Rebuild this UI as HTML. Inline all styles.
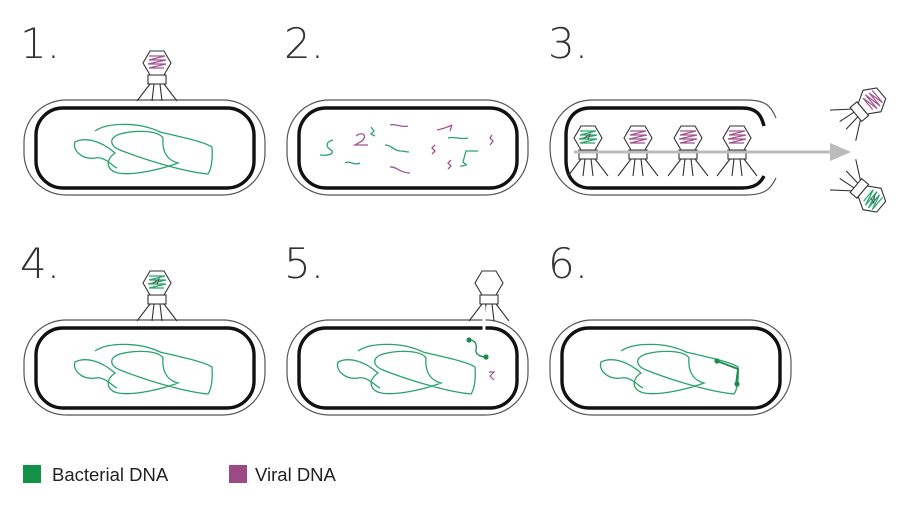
<!DOCTYPE html>
<html><head><meta charset="utf-8"><style>
html,body{margin:0;padding:0;background:#fff;}
svg{display:block;}
</style></head><body>
<svg width="909" height="512" viewBox="0 0 909 512" xmlns="http://www.w3.org/2000/svg">
<defs>
<g id="cell">
<rect x="24" y="100" width="241" height="95" rx="42" fill="#fff" stroke="#555" stroke-width="1.2"/>
<rect x="36" y="108" width="218" height="80" rx="27" fill="#fff" stroke="#111" stroke-width="3.4"/>
</g>
<path id="dna" fill="none" stroke="#2aa36b" stroke-width="1.3" d="M95 131 C108 122,140 122,160 132 C185 138,205 142,212 147 C213 160,211 170,208 174 C185 172,145 160,120 150 C110 146,108 138,120 134 C135 130,158 130,163 138 C162 150,166 160,178 163 C165 168,135 176,118 173 C106 170,105 160,115 153 C100 140,85 137,75 142 C72 150,82 160,95 158 C105 156,112 166,117 168"/>
<g id="legs" fill="none" stroke="#333" stroke-width="1.1">
<rect x="-9" y="12" width="18" height="9" fill="#fff"/>
<path d="M-7 21 L-20 38 M-3 21 L-5 38 M3 21 L5 38 M7 21 L20 38"/>
</g>
<polygon id="hex" points="-7,-12 7,-12 14,0 7,12 -7,12 -14,0" fill="#fff" stroke="#333" stroke-width="1.1"/>
<g id="pfill" fill="none" stroke="#a0558e" stroke-width="1.2"><path d="M-8 -7 H8 L-8 -3 H9 L-9 1 H9 L-8 5 H7"/></g>
<g id="gfill" fill="none" stroke="#2aa36b" stroke-width="1.2"><path d="M-8 -7 H8 L-8 -3 H9 L-9 1 H9 L-8 5 H7"/></g>
<g id="phageP"><use href="#legs"/><use href="#hex"/><use href="#pfill"/></g>
<g id="phageG"><use href="#legs"/><use href="#hex"/><use href="#gfill"/><path d="M-4 0 l6 -4 l-2 6" stroke="#555" fill="none"/></g>
</defs>

<g font-family="'DejaVu Sans ExtraLight','DejaVu Sans','Liberation Sans',sans-serif" font-size="42" fill="#333" font-weight="200">
<text x="20" y="58">1.</text>
<text x="284" y="58">2.</text>
<text x="548" y="58">3.</text>
<text x="20" y="278">4.</text>
<text x="284" y="278">5.</text>
<text x="548" y="278">6.</text>
</g>

<!-- Panel 1 -->
<use href="#cell"/>
<use href="#dna"/>
<use href="#phageP" transform="translate(157,63)"/>

<!-- Panel 2 -->
<use href="#cell" transform="translate(263,0)"/>
<g fill="none" stroke-width="1.3">
<path stroke="#2aa36b" d="M333 140 C325 142,326 147,331 150 C335 153,330 156,320 155"/>
<path stroke="#a0558e" d="M356 136 C362 131,368 135,362 141 L355 145 H368"/>
<path stroke="#2aa36b" d="M371 127 l3 4 l-3 3 l4 2"/>
<path stroke="#a0558e" d="M390 125 C396 123,400 128,408 126"/>
<path stroke="#2aa36b" d="M385 145 C392 145,392 150,400 151 C405 151,405 152,409 152"/>
<path stroke="#2aa36b" d="M345 163 C350 160,354 166,360 163"/>
<path stroke="#a0558e" d="M390 167 C396 166,400 173,410 173"/>
<path stroke="#a0558e" d="M437 130 C442 129,446 128,452 125 M452 125 l-2 6"/>
<path stroke="#2aa36b" d="M448 138 C455 136,460 140,468 138"/>
<path stroke="#a0558e" d="M435 145 l-3 3 l3 3 l-3 3"/>
<path stroke="#2aa36b" d="M478 151 H466 L463 162 C465 165,470 164,462 166 H460"/>
<path stroke="#a0558e" d="M451 160 l-3 3 l3 3 l-3 3"/>
<path stroke="#a0558e" d="M492 135 l-2 3 l3 3 l-3 4"/>
</g>

<!-- Panel 3 -->
<g transform="translate(526,0)">
<path d="M250 118 C245 106,240 100,220 100 H66 C42 100,24 120,24 147 C24 175,42 195,66 195 H220 C240 195,245 188,250 178" fill="#fff" stroke="#555" stroke-width="1.2"/>
<path d="M238 126 C235 114,230 108,216 108 H64 C48 108,40 120,40 135 V160 C40 176,48 188,64 188 H216 C230 188,235 182,238 176" fill="none" stroke="#111" stroke-width="3.4"/>
</g>
<use href="#phageG" transform="translate(588,138)"/>
<use href="#phageP" transform="translate(638,138)"/>
<use href="#phageP" transform="translate(688,138)"/>
<use href="#phageP" transform="translate(737,138)"/>
<line x1="574" y1="152" x2="832" y2="152" stroke="#bbb" stroke-width="3"/>
<polygon points="830,143 851,152 830,161" fill="#bbb"/>
<use href="#phageP" transform="translate(872,101) rotate(50)"/>
<use href="#phageG" transform="translate(872,199) rotate(130)"/>

<!-- Panel 4 -->
<use href="#cell" transform="translate(0,220)"/>
<use href="#dna" transform="translate(0,220)"/>
<use href="#phageG" transform="translate(157,283)"/>

<!-- Panel 5 -->
<use href="#cell" transform="translate(263,220)"/>
<use href="#dna" transform="translate(263,220)"/>
<g transform="translate(489,283)"><use href="#legs"/><use href="#hex"/></g>
<line x1="484" y1="306" x2="484" y2="332" stroke="#fff" stroke-width="3"/>
<path d="M469 340 C476 340,477 345,476 350 C475 355,482 357,486 357" fill="none" stroke="#1d8a4e" stroke-width="1.3"/>
<circle cx="469" cy="340" r="2.6" fill="#1d8a4e"/>
<circle cx="486" cy="357" r="2.6" fill="#1d8a4e"/>
<path d="M489 372 h5 l-4 4 l4 4" fill="none" stroke="#a0558e" stroke-width="1.2"/>

<!-- Panel 6 -->
<use href="#cell" transform="translate(526,220)"/>
<use href="#dna" transform="translate(526,220)"/>
<path d="M717 361 L738 369 L736 384" fill="none" stroke="#1d8a4e" stroke-width="1.8"/>
<circle cx="717" cy="361" r="2.6" fill="#1d8a4e"/>
<circle cx="737" cy="384" r="2.6" fill="#1d8a4e"/>

<!-- Legend -->
<rect x="23" y="465" width="18" height="18" fill="#139146"/>
<text x="52" y="481" font-family="'Liberation Sans',sans-serif" font-size="18.5" fill="#222">Bacterial DNA</text>
<rect x="229" y="465" width="18" height="18" fill="#9c4a86"/>
<text x="255" y="481" font-family="'Liberation Sans',sans-serif" font-size="18.5" fill="#222">Viral DNA</text>
</svg>
</body></html>
